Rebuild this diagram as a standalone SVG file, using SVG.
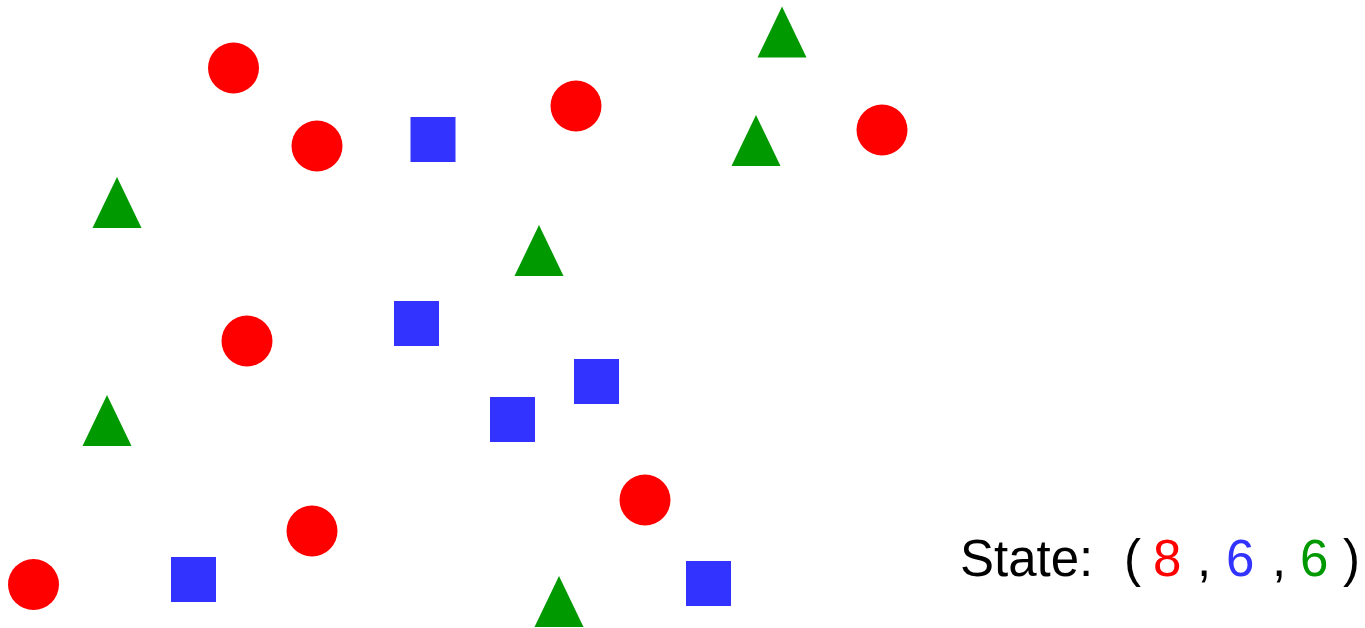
<svg xmlns="http://www.w3.org/2000/svg" width="1365" height="628" viewBox="0 0 1365 628">
<style>
.c{fill:#ff0000}
.s{fill:#3333ff}
.t{fill:#009900}
.lbl{font-family:"Liberation Sans",Arial,sans-serif;font-size:51px;fill:#000}
</style>
<defs>
<circle id="circ" r="25.5"/>
<rect id="sq" x="-22.5" y="-22.5" width="45" height="45"/>
<polygon id="tri" points="0,-25.5 24.5,25.5 -24.5,25.5"/>
</defs>
<rect width="1365" height="628" fill="#fff"/>
<g id="circles" class="c">
<use href="#circ" x="233.5" y="68"/>
<use href="#circ" x="317" y="146"/>
<use href="#circ" x="576" y="106"/>
<use href="#circ" x="882" y="130"/>
<use href="#circ" x="247" y="341"/>
<use href="#circ" x="312" y="531"/>
<use href="#circ" x="645" y="500"/>
<use href="#circ" x="33.5" y="584.5"/>
</g>
<g id="squares" class="s">
<use href="#sq" x="433" y="139.5"/>
<use href="#sq" x="416.5" y="323.5"/>
<use href="#sq" x="596.5" y="381.5"/>
<use href="#sq" x="512.5" y="419.5"/>
<use href="#sq" x="193.5" y="579.5"/>
<use href="#sq" x="708.5" y="583.5"/>
</g>
<g id="triangles" class="t">
<use href="#tri" x="782" y="32"/>
<use href="#tri" x="756" y="140.5"/>
<use href="#tri" x="117" y="202.5"/>
<use href="#tri" x="539" y="250.5"/>
<use href="#tri" x="107" y="420.5"/>
<use href="#tri" x="559" y="601.5"/>
</g>
<g id="state">
<text class="lbl" y="576"><tspan x="960">State:</tspan><tspan x="1124">(</tspan><tspan x="1153" fill="#ff0000">8</tspan><tspan x="1197">,</tspan><tspan x="1226" fill="#3333ff">6</tspan><tspan x="1272">,</tspan><tspan x="1300" fill="#009900">6</tspan><tspan x="1343">)</tspan></text>
</g>
</svg>
